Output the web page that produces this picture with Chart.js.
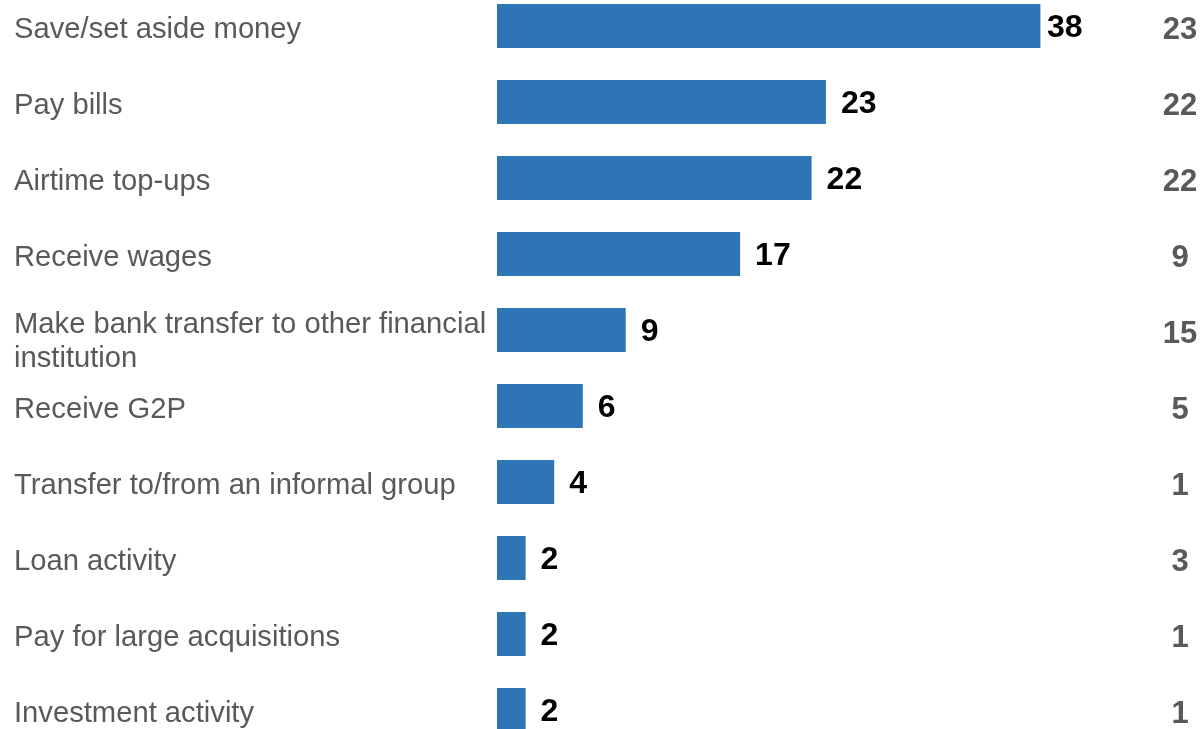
<!DOCTYPE html>
<html>
<head>
<meta charset="utf-8">
<title>Mobile money uses</title>
<script src="https://cdn.jsdelivr.net/npm/chart.js@4/dist/chart.umd.min.js"></script>
<style>
    html, body { margin: 0; padding: 0; background: #fff; overflow: hidden; }
    body { width: 1201px; height: 729px; position: relative; }
    #chart-wrap { position: absolute; left: 0; top: -12px; width: 1201px; height: 760px; }
</style>
</head>
<body>
<div id="chart-wrap"><canvas id="uses-chart"></canvas></div>
<script>
// categories, bar values and the comparison column on the right
const categories = [
    'Save/set aside money',
    'Pay bills',
    'Airtime top-ups',
    'Receive wages',
    ['Make bank transfer to other financial', 'institution'],
    'Receive G2P',
    'Transfer to/from an informal group',
    'Loan activity',
    'Pay for large acquisitions',
    'Investment activity'
];
const shareValues = [38, 23, 22, 17, 9, 6, 4, 2, 2, 2];
const compareValues = [23, 22, 22, 9, 15, 5, 1, 3, 1, 1];

const FONT = '"Liberation Sans", Arial, Helvetica, sans-serif';

// draws category names on the left, value labels after each bar and the right-hand column
const labelsPlugin = {
    id: 'rowLabels',
    afterDatasetsDraw(chart) {
        const ctx = chart.ctx;
        const yScale = chart.scales.y;
        const bars = chart.getDatasetMeta(0).data;

        ctx.save();
        ctx.textBaseline = 'middle';

        // category names
        ctx.font = '29.2px ' + FONT;
        ctx.fillStyle = '#595959';
        ctx.textAlign = 'left';
        categories.forEach((cat, i) => {
            const lines = Array.isArray(cat) ? cat : [cat];
            const yc = yScale.getPixelForValue(i);
            let y = yc + 4 - 9 * (lines.length - 1);
            lines.forEach(line => {
                ctx.fillText(line, 14, y);
                y += 34;
            });
        });

        // values at the bar ends
        ctx.font = 'bold 32px ' + FONT;
        ctx.fillStyle = '#000000';
        bars.forEach((bar, i) => {
            const x = Math.min(bar.x + 15, 1047);
            ctx.fillText(String(shareValues[i]), x, bar.y + 2);
        });

        // comparison column
        ctx.font = 'bold 31px ' + FONT;
        ctx.fillStyle = '#595959';
        ctx.textAlign = 'center';
        compareValues.forEach((v, i) => {
            ctx.fillText(String(v), 1180, yScale.getPixelForValue(i) + 4);
        });

        ctx.restore();
    }
};

new Chart(document.getElementById('uses-chart'), {
    type: 'bar',
    data: {
        labels: categories,
        datasets: [{
            data: shareValues,
            backgroundColor: '#2E75B6',
            borderWidth: 0,
            barPercentage: 0.58,
            categoryPercentage: 1.0
        }]
    },
    options: {
        indexAxis: 'y',
        responsive: true,
        maintainAspectRatio: false,
        animation: false,
        layout: { padding: { left: 497, right: 132, top: 0, bottom: 0 } },
        scales: {
            x: { display: false, min: 0, max: 40 },
            y: { display: false }
        },
        plugins: {
            legend: { display: false },
            tooltip: { enabled: false }
        }
    },
    plugins: [labelsPlugin]
});
</script>
</body>
</html>
